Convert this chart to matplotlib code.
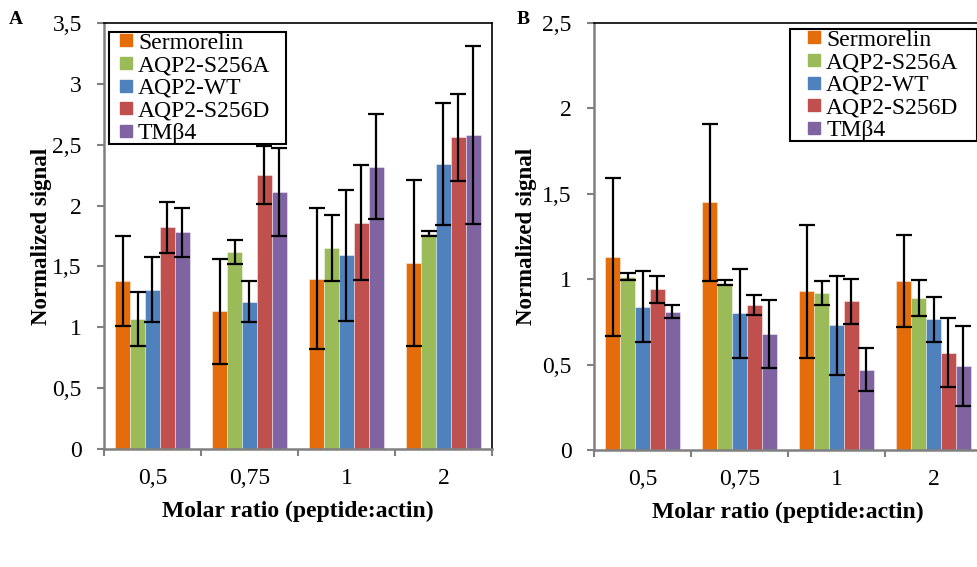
import matplotlib
matplotlib.use("Agg")
import matplotlib.pyplot as plt
from matplotlib.lines import Line2D
import numpy as np

plt.rcParams['font.family'] = ['Liberation Serif', 'DejaVu Serif']

categories = ["0,5", "0,75", "1", "2"]
series = ["Sermorelin", "AQP2-S256A", "AQP2-WT", "AQP2-S256D", "TMβ4"]
colors = ["#E46C0A", "#9BBB59", "#4F81BD", "#C0504D", "#8064A2"]

# Panel A: means and error (per series, per category)
a_vals = [
    [1.38, 1.13, 1.40, 1.53],
    [1.07, 1.62, 1.65, 1.77],
    [1.31, 1.21, 1.59, 2.34],
    [1.82, 2.25, 1.86, 2.56],
    [1.78, 2.11, 2.32, 2.58],
]
a_err = [
    [0.37, 0.43, 0.58, 0.68],
    [0.22, 0.10, 0.27, 0.02],
    [0.27, 0.17, 0.54, 0.50],
    [0.21, 0.24, 0.47, 0.36],
    [0.20, 0.36, 0.43, 0.73],
]
a_yticks = [0, 0.5, 1, 1.5, 2, 2.5, 3, 3.5]
a_yticklabels = ["0", "0,5", "1", "1,5", "2", "2,5", "3", "3,5"]

# Panel B
b_vals = [
    [1.13, 1.45, 0.93, 0.99],
    [1.015, 0.98, 0.92, 0.89],
    [0.84, 0.80, 0.73, 0.765],
    [0.94, 0.85, 0.87, 0.57],
    [0.81, 0.68, 0.47, 0.49],
]
b_err = [
    [0.46, 0.46, 0.39, 0.27],
    [0.02, 0.015, 0.07, 0.105],
    [0.21, 0.26, 0.29, 0.13],
    [0.08, 0.06, 0.13, 0.20],
    [0.04, 0.20, 0.125, 0.235],
]
b_yticks = [0, 0.5, 1, 1.5, 2, 2.5]
b_yticklabels = ["0", "0,5", "1", "1,5", "2", "2,5"]

fig = plt.figure(figsize=(9.78, 5.67), dpi=100)
axA = fig.add_axes([104/978, 1-449/567, 388/978, 426/567])
axB = fig.add_axes([594/978, 1-450/567, 388/978, 427/567])

bw = 0.153
x = np.arange(len(categories))


def draw(ax, vals, errs, yticks, yticklabels, ymax, legend_bbox, ylpad,
         hlen, htp):
    for i, (s, c) in enumerate(zip(series, colors)):
        pos = x + (i - 2) * bw
        ax.bar(pos, vals[i], width=bw, color=c, edgecolor=(1, 1, 1, 0.5),
               linewidth=0.6, zorder=2)
        ax.errorbar(pos, vals[i], yerr=errs[i], fmt='none', ecolor='black',
                    elinewidth=1.6, capsize=6, capthick=1.6, zorder=3)
    ax.set_xlim(-0.5, 3.5)
    ax.set_ylim(0, ymax)
    ax.set_yticks(yticks)
    ax.set_yticklabels(yticklabels, fontsize=17)
    ax.set_xticks([-0.5, 0.5, 1.5, 2.5, 3.5])
    ax.set_xticklabels([])
    ax.set_xticks(x, minor=True)
    ax.set_xticklabels(categories, minor=True, fontsize=17)
    ax.tick_params(axis='x', which='major', direction='out', length=5,
                   width=1.5, color='#808080')
    ax.tick_params(axis='x', which='minor', length=0, pad=14)
    ax.tick_params(axis='y', direction='out', length=5, width=1.5,
                   color='#808080', pad=11)
    for side in ['left', 'bottom']:
        ax.spines[side].set_color('#808080')
        ax.spines[side].set_linewidth(1.8)
    for side in ['top', 'right']:
        ax.spines[side].set_color('black')
        ax.spines[side].set_linewidth(1.2)
    ax.set_ylabel("Normalized signal", fontsize=16.5, fontweight='bold',
                  labelpad=ylpad)
    ax.set_xlabel("Molar ratio (peptide:actin)", fontsize=17,
                  fontweight='bold', labelpad=8)
    handles = [Line2D([], [], linestyle='none', marker='s', markersize=8,
                      markerfacecolor=c, markeredgecolor=c)
               for c in colors]
    leg = ax.legend(handles, series, loc='upper left',
                    bbox_to_anchor=legend_bbox, mode='expand', numpoints=1,
                    fontsize=17, frameon=True, fancybox=False,
                    framealpha=1, edgecolor='black', handlelength=hlen,
                    handletextpad=htp, labelspacing=0.05, borderpad=0.0,
                    borderaxespad=0)
    leg.get_frame().set_linewidth(1.5)
    leg.set_zorder(5)


draw(axA, a_vals, a_err, a_yticks, a_yticklabels, 3.5,
     ((109-104)/388, (449-32)/426 - 0.3, 177/388, 0.3), 0.5, 1.48, -0.25)
draw(axB, b_vals, b_err, b_yticks, b_yticklabels, 2.5,
     ((790-594)/388, (450-29)/427 - 0.3, 187/388, 0.3), 3.5, 2.0, -0.47)

fig.text(9/978, 1-19/567, "A", fontsize=14, fontweight='bold', va='center')
fig.text(517/978, 1-19/567, "B", fontsize=14, fontweight='bold', va='center')

fig.savefig("out.png", dpi=100)
